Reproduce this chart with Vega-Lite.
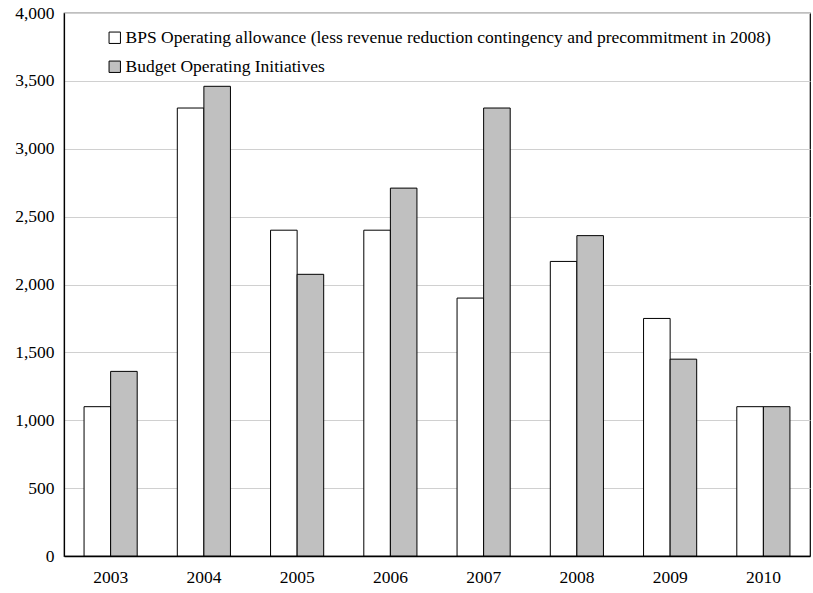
{
  "$schema": "https://vega.github.io/schema/vega-lite/v6.json",
  "width": 746,
  "height": 543,
  "autosize": {"type": "none"},
  "padding": {"left": 64, "top": 13, "right": 3, "bottom": 37},
  "background": "white",
  "config": {
    "font": "Liberation Serif",
    "view": {"stroke": "#000", "strokeWidth": 1.2}
  },
  "data": {
    "values": [
      {"year": "2003", "series": "BPS Operating allowance (less revenue reduction contingency and precommitment in 2008)", "value": 1100},
      {"year": "2003", "series": "Budget Operating Initiatives", "value": 1360},
      {"year": "2004", "series": "BPS Operating allowance (less revenue reduction contingency and precommitment in 2008)", "value": 3300},
      {"year": "2004", "series": "Budget Operating Initiatives", "value": 3460},
      {"year": "2005", "series": "BPS Operating allowance (less revenue reduction contingency and precommitment in 2008)", "value": 2400},
      {"year": "2005", "series": "Budget Operating Initiatives", "value": 2075},
      {"year": "2006", "series": "BPS Operating allowance (less revenue reduction contingency and precommitment in 2008)", "value": 2400},
      {"year": "2006", "series": "Budget Operating Initiatives", "value": 2710},
      {"year": "2007", "series": "BPS Operating allowance (less revenue reduction contingency and precommitment in 2008)", "value": 1900},
      {"year": "2007", "series": "Budget Operating Initiatives", "value": 3300},
      {"year": "2008", "series": "BPS Operating allowance (less revenue reduction contingency and precommitment in 2008)", "value": 2170},
      {"year": "2008", "series": "Budget Operating Initiatives", "value": 2360},
      {"year": "2009", "series": "BPS Operating allowance (less revenue reduction contingency and precommitment in 2008)", "value": 1750},
      {"year": "2009", "series": "Budget Operating Initiatives", "value": 1450},
      {"year": "2010", "series": "BPS Operating allowance (less revenue reduction contingency and precommitment in 2008)", "value": 1100},
      {"year": "2010", "series": "Budget Operating Initiatives", "value": 1100}
    ]
  },
  "mark": {"type": "bar", "stroke": "#000", "strokeWidth": 1},
  "encoding": {
    "x": {
      "field": "year",
      "type": "nominal",
      "scale": {"paddingInner": 0.43, "paddingOuter": 0.215},
      "axis": {
        "title": null,
        "labelAngle": 0,
        "labelFontSize": 17.5,
        "labelColor": "#000",
        "labelPadding": 12,
        "ticks": false,
        "domainColor": "#000",
        "domainWidth": 1.5
      }
    },
    "xOffset": {"field": "series", "type": "nominal", "scale": {"paddingInner": 0, "paddingOuter": 0}},
    "y": {
      "field": "value",
      "type": "quantitative",
      "scale": {"domain": [0, 4000], "nice": false},
      "axis": {
        "title": null,
        "values": [0, 500, 1000, 1500, 2000, 2500, 3000, 3500, 4000],
        "format": ",d",
        "labelFontSize": 17.5,
        "labelColor": "#000",
        "labelPadding": 10,
        "ticks": false,
        "domainColor": "#000",
        "domainWidth": 1.2,
        "gridColor": "#d0d0d0",
        "gridWidth": 1
      }
    },
    "color": {
      "field": "series",
      "type": "nominal",
      "scale": {"range": ["#ffffff", "#c0c0c0"]},
      "legend": {
        "title": null,
        "orient": "none",
        "legendX": 42,
        "legendY": 16,
        "symbolType": "square",
        "symbolSize": 130,
        "symbolStrokeColor": "#000",
        "symbolStrokeWidth": 1,
        "labelFontSize": 17.5,
        "labelColor": "#000",
        "labelLimit": 800,
        "labelOffset": 2,
        "rowPadding": 10
      }
    }
  }
}
